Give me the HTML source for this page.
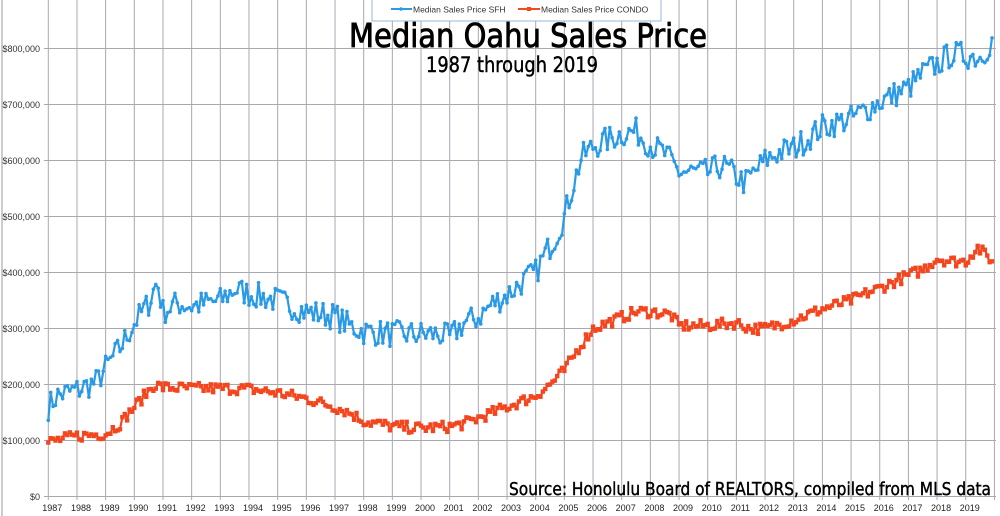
<!DOCTYPE html>
<html><head><meta charset="utf-8"><style>
body{margin:0;background:#fff;}
svg{display:block;font-family:"Liberation Sans","DejaVu Sans",sans-serif;}
</style></head><body>
<svg id="s" width="1000" height="516" viewBox="0 0 1000 516" xmlns="http://www.w3.org/2000/svg">
<rect width="1000" height="516" fill="#fff"/>
<g id="grid"></g>
<g id="series"></g>
<rect x="372" y="-2" width="289" height="23" fill="#fff" stroke="#9ab8d8" stroke-width="1"/>
<line x1="391" y1="9" x2="412" y2="9" stroke="#2e9be0" stroke-width="2"/><circle cx="401" cy="9" r="1.8" fill="#2e9be0"/>
<text x="413" y="12.5" font-size="8.5" fill="#333">Median Sales Price SFH</text>
<line x1="518" y1="9" x2="540" y2="9" stroke="#f04a20" stroke-width="2"/><rect x="527" y="7" width="4" height="4" fill="#f04a20"/>
<text x="541" y="12.5" font-size="8.5" fill="#333">Median Sales Price CONDO</text>
<text x="528" y="47" font-size="33" text-anchor="middle" fill="#000" stroke="#000" stroke-width="0.8" font-family="DejaVu Sans Condensed, DejaVu Sans, sans-serif" textLength="358" lengthAdjust="spacingAndGlyphs">Median Oahu Sales Price</text>
<text x="512" y="72" font-size="21" text-anchor="middle" fill="#000" stroke="#000" stroke-width="0.4" font-family="DejaVu Sans Condensed, DejaVu Sans, sans-serif" textLength="172" lengthAdjust="spacingAndGlyphs">1987 through 2019</text>
<text x="991" y="495" font-size="18" text-anchor="end" fill="#000" stroke="#000" stroke-width="0.4" font-family="DejaVu Sans Condensed, DejaVu Sans, sans-serif" textLength="482" lengthAdjust="spacingAndGlyphs">Source: Honolulu Board of REALTORS, compiled from MLS data</text>
</svg>
<script>
var NS="http://www.w3.org/2000/svg";
function el(t,a,p){var e=document.createElementNS(NS,t);for(var k in a)e.setAttribute(k,a[k]);p.appendChild(e);return e;}
var g=document.getElementById('grid'),S=document.getElementById('series');
var X0=48.3,DX=28.67,Y0=496.5,DY=0.56;
function xp(y){return X0+(y-1987)*DX;}function yp(v){return Y0-v*DY;}
el('line',{x1:2,y1:0,x2:2,y2:516,stroke:'#999','stroke-width':1},g);
for(var i=0;i<=8;i++){var y=yp(i*100);
 el('line',{x1:44,y1:y,x2:996,y2:y,stroke:'#a8a8b2','stroke-width':1},g);
 var t=el('text',{x:40,y:y+3.5,'font-size':9,'text-anchor':'end',fill:'#333'},g);
 t.textContent=i==0?'$0':'$'+i*100+',000';}
for(var yr=1987;yr<=2020;yr++){var x=xp(yr);
 el('line',{x1:x,y1:0,x2:x,y2:500,stroke:'#a8a8b2','stroke-width':1},g);
 if(yr<=2019){var t=el('text',{x:x+4,y:511,'font-size':9,'text-anchor':'middle',fill:'#222'},g);t.textContent=yr;}}
var seed=7;function rnd(){seed=(seed*16807)%2147483647;return seed/2147483647;}
function interp(A,t){for(var i=0;i<A.length-1;i++){if(t<=A[i+1][0]){var f=(t-A[i][0])/(A[i+1][0]-A[i][0]);return A[i][1]+f*(A[i+1][1]-A[i][1]);}}return A[A.length-1][1];}
var sfh=[[1987,160],[1987.3,180],[1988,190],[1988.7,205],[1989,230],[1989.5,265],[1990,310],[1990.5,345],[1990.8,385],[1991,330],[1991.5,345],[1992,340],[1993,350],[1993.5,370],[1994,362],[1995,350],[1996,330],[1997,322],[1997.5,305],[1998,295],[1999,290],[2000,290],[2000.6,290],[2001,283],[2001.5,310],[2002,320],[2002.5,345],[2003,360],[2003.5,382],[2004,400],[2004.3,430],[2004.7,465],[2005,500],[2005.3,555],[2005.6,605],[2006,625],[2007,648],[2007.5,652],[2008,628],[2008.5,612],[2009,580],[2010,578],[2010.5,592],[2011,572],[2011.3,560],[2012,600],[2012.5,615],[2013,622],[2013.5,640],[2014,660],[2015,675],[2015.5,690],[2016,705],[2017,730],[2017.5,755],[2018,772],[2018.5,790],[2019,788],[2019.5,785],[2019.95,815]];
var con=[[1987,97],[1988,108],[1989,112],[1989.5,130],[1990,160],[1990.7,200],[1991,195],[1992,193],[1993,193],[1994,192],[1995,185],[1996,175],[1997,160],[1997.5,150],[1998,135],[1999,125],[2000,122],[2001,125],[2001.5,130],[2002,140],[2003,160],[2004,180],[2004.5,200],[2005,225],[2005.5,265],[2006,300],[2007,320],[2007.5,330],[2008,330],[2008.7,325],[2009,305],[2010,305],[2011,310],[2011.5,300],[2012,300],[2013,315],[2014,335],[2015,350],[2015.5,362],[2016,372],[2017,395],[2017.5,405],[2018,425],[2018.5,420],[2019,420],[2019.4,445],[2019.95,420]];
function draw(A,noise,col,sq){var pts=[];for(var m=0;m<396;m++){var t=1987+m/12;var v=interp(A,t)+(rnd()-0.5)*2*noise;pts.push([xp(t),yp(v)]);}
 el('polyline',{points:pts.map(function(p){return p[0].toFixed(1)+','+p[1].toFixed(1)}).join(' '),fill:'none',stroke:col,'stroke-width':2.2,'stroke-linejoin':'round'},S);
 pts.forEach(function(p){if(sq)el('rect',{x:p[0]-2.2,y:p[1]-2.2,width:4.4,height:4.4,fill:col},S);else el('circle',{cx:p[0],cy:p[1],r:1.8,fill:col},S);});}
draw(sfh,24,'#2a9ae6',false);
draw(con,10,'#f4461e',true);
</script>
</body></html>
